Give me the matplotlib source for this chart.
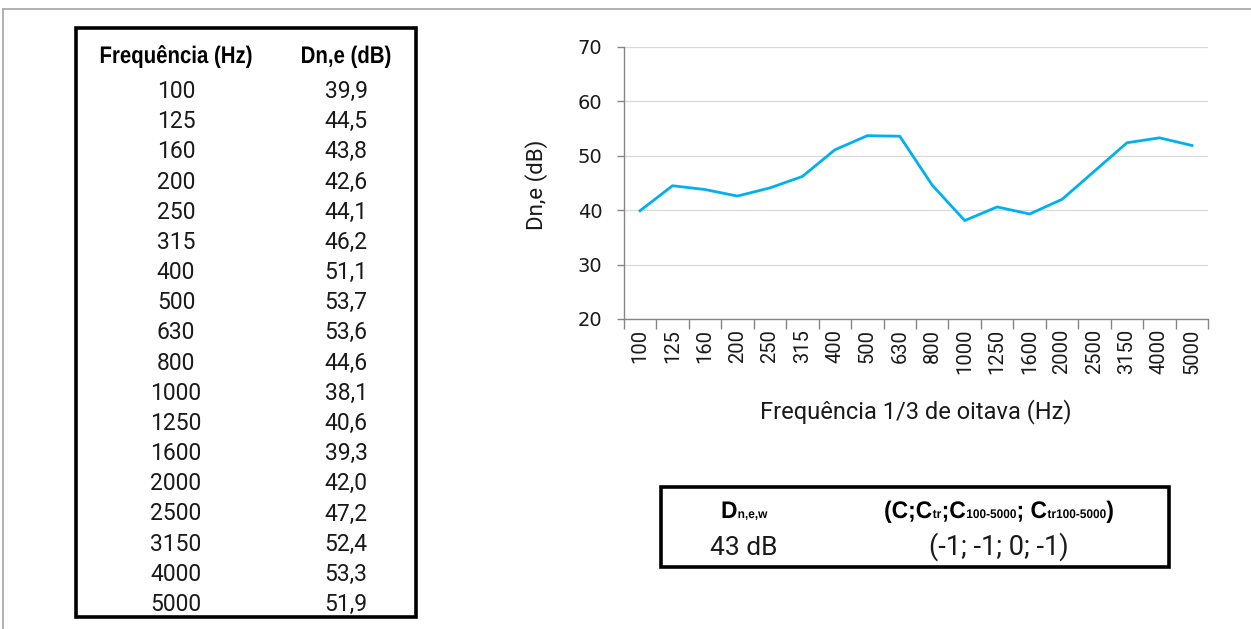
import matplotlib
matplotlib.use("Agg")
import matplotlib.pyplot as plt
from matplotlib.patches import Rectangle, PathPatch
from matplotlib.lines import Line2D
from matplotlib.ticker import FixedLocator
from matplotlib.textpath import TextPath
from matplotlib.font_manager import FontProperties
from matplotlib.transforms import Affine2D

# Sound insulation data: one-third octave band frequencies and Dn,e values
frequencies = ["100", "125", "160", "200", "250", "315", "400", "500", "630",
               "800", "1000", "1250", "1600", "2000", "2500", "3150", "4000", "5000"]
dne_values = [39.9, 44.5, 43.8, 42.6, 44.1, 46.2, 51.1, 53.7, 53.6,
              44.6, 38.1, 40.6, 39.3, 42.0, 47.2, 52.4, 53.3, 51.9]
y_ticks = [20, 30, 40, 50, 60, 70]
dnew_value = "43 dB"
adaptation_terms = "(-1; -1; 0; -1)"

W, H = 1251, 629
BODY = ["Roboto", "DejaVu Sans"]
LINE_COLOR = "#00B0F0"
TXT = "#1a1a1a"

fig = plt.figure(figsize=(W / 100, H / 100), dpi=100)
HEAD_FP = FontProperties(family=["Liberation Sans", "DejaVu Sans"], weight="bold")


def fx(x):
    return x / W


def fy(y):
    return 1 - y / H


def text_run(cx, base_y, pieces):
    """Draw bold text pieces [(text, px_size, h_scale)] centred on cx, baseline at base_y."""
    items = []
    for s, sz, sq in pieces:
        p = TextPath((0, 0), s, size=sz, prop=HEAD_FP)
        adv = (p.get_extents().x1 + sz * 0.05) * sq
        items.append((p, sq, adv))
    total = sum(a for _, _, a in items)
    x0 = cx - total / 2
    for p, sq, adv in items:
        tr = Affine2D().scale(sq, 1).translate(x0, H - base_y)
        fig.add_artist(PathPatch(p, transform=tr, facecolor="black", lw=0))
        x0 += adv


# Page frame lines (top and left)
fig.add_artist(Line2D([fx(3), 1.0], [fy(9), fy(9)], color="#a6a6a6", lw=1.2))
fig.add_artist(Line2D([fx(3), fx(3)], [fy(9), 0.0], color="#a6a6a6", lw=1.2))

# ---- Table of values ----
fig.add_artist(Rectangle((fx(76), fy(617)), fx(416) - fx(76), fy(28) - fy(617),
                         fill=False, edgecolor="black", lw=2.6))
col_f, col_d = 176, 346
text_run(col_f, 63, [("Frequência (Hz)", 24, 0.85)])
text_run(col_d, 63, [("Dn,e (dB)", 24, 0.85)])
row0, step = 90, (603 - 90) / 17
for i, (f, v) in enumerate(zip(frequencies, dne_values)):
    y = row0 + i * step + 8
    fig.text(fx(col_f), fy(y), f, family=BODY, fontsize=16.5,
             ha="center", va="baseline", color=TXT)
    fig.text(fx(col_d), fy(y), f"{v:.1f}".replace(".", ","), family=BODY,
             fontsize=16.5, ha="center", va="baseline", color=TXT)

# ---- Line chart ----
ax_left, ax_right, ax_top, ax_bot = 623.8, 1208.2, 47, 319
ax = fig.add_axes([fx(ax_left), fy(ax_bot), fx(ax_right - ax_left),
                   (ax_bot - ax_top) / H])
x = list(range(len(frequencies)))
ax.plot(x, dne_values, color=LINE_COLOR, lw=2.0, solid_joinstyle="round")
ax.set_xlim(-0.5, len(frequencies) - 0.5)
ax.set_ylim(y_ticks[0], y_ticks[-1])
ax.set_yticks(y_ticks)
ax.set_xticks(x)
ax.set_xticklabels(frequencies, rotation=90, family=BODY, fontsize=14.5)
ax.xaxis.set_minor_locator(FixedLocator([i - 0.5 for i in range(len(frequencies) + 1)]))
ax.tick_params(axis="x", which="major", length=0, pad=7, colors=TXT)
ax.tick_params(axis="x", which="minor", length=7, width=1, color="#868686")
ax.tick_params(axis="y", length=5, width=1, color="#868686", pad=10.5,
               labelsize=14, labelcolor=TXT)
for lbl in ax.get_yticklabels():
    lbl.set_family("DejaVu Sans")
ax.grid(axis="y", color="#d9d9d9", lw=0.9)
ax.set_axisbelow(True)
for side in ("top", "right"):
    ax.spines[side].set_visible(False)
for side in ("left", "bottom"):
    ax.spines[side].set_color("#868686")
    ax.spines[side].set_linewidth(1.0)
fig.text(fx(916), fy(412), "Frequência 1/3 de oitava (Hz)", family=BODY,
         fontsize=17, color=TXT, ha="center", va="center")
fig.text(fx(537), fy(185), "Dn,e (dB)", family=BODY, fontsize=16, color=TXT,
         rotation=90, ha="center", va="center")

# ---- Single-number rating box ----
fig.add_artist(Rectangle((fx(661), fy(567)), fx(1169) - fx(661), fy(487) - fy(567),
                         fill=False, edgecolor="black", lw=2.6))
text_run(744.5, 518, [("D", 24, 0.95), ("n,e,w", 12.5, 0.95)])
text_run(999, 518, [("(C;C", 24, 0.95), ("tr", 12.5, 0.95), (";C", 24, 0.95),
                    ("100-5000", 12.5, 0.95), ("; C", 24, 0.95),
                    ("tr100-5000", 12.5, 0.95), (")", 24, 0.95)])
fig.text(fx(744), fy(555), dnew_value, family=BODY, fontsize=19,
         ha="center", va="baseline", color=TXT)
fig.text(fx(999), fy(555), adaptation_terms, family=BODY, fontsize=19.5,
         ha="center", va="baseline", color=TXT)

fig.savefig("out.png", dpi=100)
